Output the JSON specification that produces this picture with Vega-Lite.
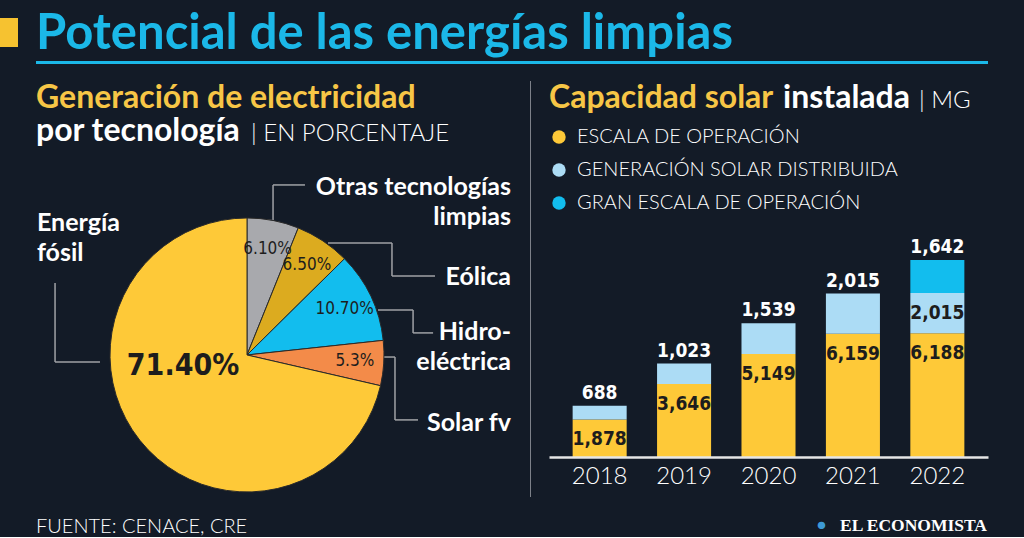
{
  "$schema": "https://vega.github.io/schema/vega-lite/v6.json",
  "background": "#131b27",
  "padding": {"left": 0, "top": 10, "right": 36, "bottom": 0},
  "spacing": 0,
  "resolve": {"scale": {"color": "independent"}, "legend": {"color": "independent"}},
  "datasets": {
    "nada": [],
    "pie": [
      {"tecnologia": "Otras tecnologías limpias", "pct": 6.1, "etiqueta": "6.10%"},
      {"tecnologia": "Eólica", "pct": 6.5, "etiqueta": "6.50%"},
      {"tecnologia": "Hidroeléctrica", "pct": 10.7, "etiqueta": "10.70%"},
      {"tecnologia": "Solar fv", "pct": 5.3, "etiqueta": "5.3%"},
      {"tecnologia": "Energía fósil", "pct": 71.4, "etiqueta": "71.40%"}
    ],
    "guias": [
      {"x1": -1.073, "y1": -0.051, "x2": -1.401, "y2": -0.051},
      {"x1": -1.401, "y1": -0.051, "x2": -1.401, "y2": 0.526},
      {"x1": 0.19, "y1": 0.985, "x2": 0.19, "y2": 1.241},
      {"x1": 0.19, "y1": 1.241, "x2": 0.423, "y2": 1.241},
      {"x1": 0.591, "y1": 0.818, "x2": 1.058, "y2": 0.818},
      {"x1": 1.058, "y1": 0.818, "x2": 1.058, "y2": 0.577},
      {"x1": 1.058, "y1": 0.577, "x2": 1.372, "y2": 0.577},
      {"x1": 0.956, "y1": 0.328, "x2": 1.212, "y2": 0.328},
      {"x1": 1.212, "y1": 0.328, "x2": 1.212, "y2": 0.161},
      {"x1": 1.212, "y1": 0.161, "x2": 1.358, "y2": 0.161},
      {"x1": 0.993, "y1": -0.015, "x2": 1.08, "y2": -0.015},
      {"x1": 1.08, "y1": -0.015, "x2": 1.08, "y2": -0.474},
      {"x1": 1.08, "y1": -0.474, "x2": 1.248, "y2": -0.474}
    ],
    "etiquetas": [
      {"texto": "Energía", "x": -1.533, "y": 0.905},
      {"texto": "fósil", "x": -1.533, "y": 0.686},
      {"texto": "Otras tecnologías", "x": 1.927, "y": 1.168},
      {"texto": "limpias", "x": 1.927, "y": 0.949},
      {"texto": "Eólica", "x": 1.927, "y": 0.511},
      {"texto": "Hidro-", "x": 1.927, "y": 0.109},
      {"texto": "eléctrica", "x": 1.927, "y": -0.109},
      {"texto": "Solar fv", "x": 1.927, "y": -0.555}
    ],
    "barras": [
      {"anio": "2018", "serie": "ESCALA DE OPERACIÓN", "valor": 1878},
      {"anio": "2018", "serie": "GENERACIÓN SOLAR DISTRIBUIDA", "valor": 688},
      {"anio": "2019", "serie": "ESCALA DE OPERACIÓN", "valor": 3646},
      {"anio": "2019", "serie": "GENERACIÓN SOLAR DISTRIBUIDA", "valor": 1023},
      {"anio": "2020", "serie": "ESCALA DE OPERACIÓN", "valor": 5149},
      {"anio": "2020", "serie": "GENERACIÓN SOLAR DISTRIBUIDA", "valor": 1539},
      {"anio": "2021", "serie": "ESCALA DE OPERACIÓN", "valor": 6159},
      {"anio": "2021", "serie": "GENERACIÓN SOLAR DISTRIBUIDA", "valor": 2015},
      {"anio": "2022", "serie": "ESCALA DE OPERACIÓN", "valor": 6188},
      {"anio": "2022", "serie": "GENERACIÓN SOLAR DISTRIBUIDA", "valor": 2015},
      {"anio": "2022", "serie": "GRAN ESCALA DE OPERACIÓN", "valor": 1642}
    ]
  },
  "vconcat": [
    {
      "spacing": 2,
      "vconcat": [
        {
          "spacing": 18,
          "hconcat": [
            {"data": {"name": "nada"}, "mark": "point", "width": 18, "height": 29, "view": {"fill": "#f6c230", "stroke": null}},
            {
              "data": {"name": "nada"}, "mark": "point", "width": 952, "height": 0,
              "title": {"text": "Potencial de las energías limpias", "color": "#1bb8e8", "fontSize": 49, "fontWeight": "bold", "dy": -32}
            }
          ]
        },
        {
          "spacing": 18,
          "hconcat": [
            {"data": {"name": "nada"}, "mark": "point", "width": 18, "height": 0},
            {"data": {"name": "nada"}, "mark": "point", "width": 952, "height": 3, "view": {"fill": "#1bb8e8", "stroke": null}}
          ]
        }
      ]
    },
    {
      "spacing": 18,
      "resolve": {"scale": {"color": "independent"}, "legend": {"color": "independent"}},
      "hconcat": [
        {"data": {"name": "nada"}, "mark": "point", "width": 18, "height": 0},
        {
          "spacing": 0,
          "vconcat": [
            {"data": {"name": "nada"}, "mark": "point", "width": 0, "height": 0,
             "title": {"text": "Generación de electricidad", "color": "#f7c646", "fontSize": 32, "fontWeight": "bold", "dy": -22}},
            {
              "spacing": 10,
              "hconcat": [
                {"data": {"name": "nada"}, "mark": "point", "width": 0, "height": 0,
                 "title": {"text": "por tecnología", "color": "#ffffff", "fontSize": 32, "fontWeight": "bold", "dy": -22}},
                {"data": {"name": "nada"}, "mark": "point", "width": 0, "height": 0,
                 "title": {"text": "| EN PORCENTAJE", "color": "#ffffff", "fontSize": 24, "fontWeight": 300, "dy": -16}}
              ]
            },
            {
              "width": 476,
              "height": 351,
              "layer": [
                {
                  "data": {"name": "guias"},
                  "mark": {"type": "rule", "color": "#a0a2a6", "strokeWidth": 1.5},
                  "encoding": {
                    "x": {"field": "x1", "type": "quantitative", "scale": {"domain": [-1.54, 1.934], "nice": false, "zero": false}, "axis": null},
                    "y": {"field": "y1", "type": "quantitative", "scale": {"domain": [-1.044, 1.518], "nice": false, "zero": false}, "axis": null},
                    "x2": {"field": "x2"},
                    "y2": {"field": "y2"}
                  }
                },
                {
                  "data": {"name": "pie"},
                  "transform": [{"window": [{"op": "row_number", "as": "i"}]}],
                  "mark": {"type": "arc", "radius": 137, "stroke": "#2a2a2a", "strokeWidth": 1},
                  "encoding": {
                    "x": {"datum": 0, "type": "quantitative"},
                    "y": {"datum": 0, "type": "quantitative"},
                    "theta": {"field": "pct", "type": "quantitative", "stack": true},
                    "order": {"field": "i", "type": "quantitative"},
                    "color": {
                      "field": "tecnologia", "type": "nominal",
                      "scale": {
                        "domain": ["Otras tecnologías limpias", "Eólica", "Hidroeléctrica", "Solar fv", "Energía fósil"],
                        "range": ["#a8a9ad", "#dcab1f", "#12bdee", "#f38b49", "#fec938"]
                      },
                      "legend": null
                    }
                  }
                },
                {
                  "data": {"name": "pie"},
                  "transform": [{"window": [{"op": "row_number", "as": "i"}]}],
                  "mark": {"type": "text", "radius": 108, "font": "DejaVu Sans Condensed, Roboto, sans-serif", "fontSize": 17, "color": "#1d1d1d"},
                  "encoding": {
                    "x": {"datum": 0, "type": "quantitative"},
                    "y": {"datum": 0, "type": "quantitative"},
                    "theta": {"field": "pct", "type": "quantitative", "stack": true},
                    "order": {"field": "i", "type": "quantitative"},
                    "text": {"condition": {"test": "datum.pct > 50", "value": ""}, "field": "etiqueta", "type": "nominal"}
                  }
                },
                {
                  "data": {"name": "pie"},
                  "transform": [{"filter": "datum.pct > 50"}],
                  "mark": {"type": "text", "font": "DejaVu Sans Condensed, Roboto, sans-serif", "fontWeight": "bold", "fontSize": 30, "color": "#1d1d1d"},
                  "encoding": {
                    "x": {"datum": -0.467, "type": "quantitative"},
                    "y": {"datum": -0.08, "type": "quantitative"},
                    "text": {"field": "etiqueta", "type": "nominal"}
                  }
                },
                {
                  "data": {"name": "etiquetas"},
                  "transform": [{"filter": "datum.x < 0"}],
                  "mark": {"type": "text", "align": "left", "baseline": "alphabetic", "font": "Lato", "fontWeight": "bold", "fontSize": 25, "color": "#ffffff"},
                  "encoding": {
                    "x": {"field": "x", "type": "quantitative"},
                    "y": {"field": "y", "type": "quantitative"},
                    "text": {"field": "texto", "type": "nominal"}
                  }
                },
                {
                  "data": {"name": "etiquetas"},
                  "transform": [{"filter": "datum.x > 0"}],
                  "mark": {"type": "text", "align": "right", "baseline": "alphabetic", "font": "Lato", "fontWeight": "bold", "fontSize": 25, "color": "#ffffff"},
                  "encoding": {
                    "x": {"field": "x", "type": "quantitative"},
                    "y": {"field": "y", "type": "quantitative"},
                    "text": {"field": "texto", "type": "nominal"}
                  }
                }
              ]
            }
          ]
        },
        {"data": {"name": "nada"}, "mark": "point", "width": 1, "height": 416, "view": {"fill": "#7d8189", "stroke": null}},
        {
          "spacing": 0,
          "vconcat": [
            {
              "spacing": 9,
              "hconcat": [
                {"data": {"name": "nada"}, "mark": "point", "width": 0, "height": 0,
                 "title": {"text": "Capacidad solar", "color": "#f7c646", "fontSize": 32, "fontWeight": "bold", "dy": -22}},
                {"data": {"name": "nada"}, "mark": "point", "width": 0, "height": 0,
                 "title": {"text": "instalada", "color": "#ffffff", "fontSize": 32, "fontWeight": "bold", "dy": -22}},
                {"data": {"name": "nada"}, "mark": "point", "width": 0, "height": 0,
                 "title": {"text": "| MG", "color": "#ffffff", "fontSize": 24, "fontWeight": 300, "dy": -16}}
              ]
            },
            {
              "width": 439,
              "height": 343,
              "data": {"name": "barras"},
              "encoding": {
                "x": {
                  "field": "anio", "type": "nominal",
                  "scale": {"paddingInner": 0.36, "paddingOuter": 0.28},
                  "axis": {"title": null, "labelAngle": 0, "ticks": false, "labelFont": "Lato", "labelFontWeight": 300, "labelFontSize": 24, "labelColor": "#ffffff", "labelPadding": 7, "domainColor": "#e6e6e6", "domainWidth": 2.5, "zindex": 1}
                }
              },
              "layer": [
                {
                  "mark": "bar",
                  "encoding": {
                    "y": {"field": "valor", "type": "quantitative", "stack": "zero", "scale": {"domain": [0, 17150], "nice": false}, "axis": null},
                    "order": {"field": "serie", "type": "ordinal", "sort": "ascending"},
                    "color": {
                      "field": "serie", "type": "nominal",
                      "scale": {
                        "domain": ["ESCALA DE OPERACIÓN", "GENERACIÓN SOLAR DISTRIBUIDA", "GRAN ESCALA DE OPERACIÓN"],
                        "range": ["#fec938", "#acdcf5", "#12bdee"]
                      },
                      "legend": {
                        "orient": "none", "legendX": 0, "legendY": 46, "title": null,
                        "symbolType": "circle", "symbolSize": 180, "symbolStrokeWidth": 0, "symbolOpacity": 1,
                        "labelFont": "Lato", "labelFontSize": 20, "labelFontWeight": 300, "labelColor": "#ffffff",
                        "labelOffset": 8, "rowPadding": 13, "padding": 0, "labelLimit": 400
                      }
                    }
                  }
                },
                {
                  "transform": [
                    {"stack": "valor", "groupby": ["anio"], "sort": [{"field": "serie", "order": "ascending"}], "as": ["y0", "y1"]},
                    {"joinaggregate": [{"op": "max", "field": "y1", "as": "total"}], "groupby": ["anio"]},
                    {"filter": "datum.y1 == datum.total"}
                  ],
                  "mark": {"type": "text", "dy": -7, "baseline": "alphabetic", "font": "DejaVu Sans Condensed, Roboto, sans-serif", "fontWeight": "bold", "fontSize": 19, "color": "#ffffff"},
                  "encoding": {
                    "y": {"field": "y1", "type": "quantitative"},
                    "text": {"field": "valor", "type": "quantitative", "format": ",d"}
                  }
                },
                {
                  "transform": [
                    {"stack": "valor", "groupby": ["anio"], "sort": [{"field": "serie", "order": "ascending"}], "as": ["y0", "y1"]},
                    {"joinaggregate": [{"op": "max", "field": "y1", "as": "total"}], "groupby": ["anio"]},
                    {"filter": "datum.y1 < datum.total"}
                  ],
                  "mark": {"type": "text", "dy": 11, "baseline": "top", "font": "DejaVu Sans Condensed, Roboto, sans-serif", "fontWeight": "bold", "fontSize": 19, "color": "#1d1d1d"},
                  "encoding": {
                    "y": {"field": "y1", "type": "quantitative"},
                    "text": {"field": "valor", "type": "quantitative", "format": ",d"}
                  }
                }
              ]
            }
          ]
        }
      ]
    },
    {
      "spacing": 18,
      "hconcat": [
        {"data": {"name": "nada"}, "mark": "point", "width": 18, "height": 0},
        {"data": {"name": "nada"}, "mark": "point", "width": 763, "height": 0,
         "title": {"text": "FUENTE: CENACE, CRE", "color": "#ffffff", "fontSize": 20, "fontWeight": 300, "dy": -5}},
        {
          "spacing": 3,
          "hconcat": [
            {"data": {"name": "nada"}, "mark": "point", "width": 0, "height": 0,
             "title": {"text": "●", "color": "#3d9ad6", "fontSize": 15, "dy": -4}},
            {"data": {"name": "nada"}, "mark": "point", "width": 0, "height": 0,
             "title": {"text": "EL ECONOMISTA", "color": "#ffffff", "font": "Liberation Serif", "fontSize": 17.5, "fontWeight": "bold", "dy": -5}}
          ]
        }
      ]
    }
  ],
  "config": {
    "view": {"stroke": null},
    "title": {"anchor": "start", "frame": "group", "font": "Lato", "offset": 0, "orient": "bottom"},
    "axis": {"grid": false}
  }
}
